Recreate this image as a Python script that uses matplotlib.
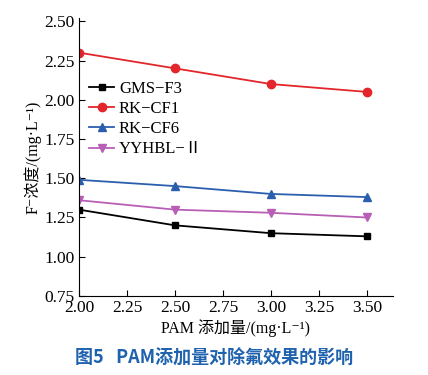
import matplotlib.pyplot as plt

# podatki
pam = [2.00, 2.50, 3.00, 3.50]
gms_f3 = [1.30, 1.20, 1.15, 1.13]
rk_cf1 = [2.30, 2.20, 2.10, 2.05]
rk_cf6 = [1.49, 1.45, 1.40, 1.38]
yyhbl = [1.36, 1.30, 1.28, 1.25]
labels = ["GMS\u2212F3", "RK\u2212CF1", "RK\u2212CF6", "YYHBL\u2212\u2161"]

serif = ['Liberation Serif', 'Noto Sans CJK SC', 'DejaVu Sans']
plt.rcParams['font.family'] = serif

fig = plt.figure(figsize=(4.28, 3.75), dpi=100)
ax = fig.add_axes([0.1846, 0.2107, 0.733, 0.741])

ax.plot(pam, gms_f3, color='black', marker='s', ms=5, lw=1.3, label=labels[0])
ax.plot(pam, rk_cf1, color='#e3262b', marker='o', ms=6, lw=1.3, label=labels[1])
ax.plot(pam, rk_cf6, color='#2b5fae', marker='^', ms=6, lw=1.3, label=labels[2])
ax.plot(pam, yyhbl, color='#b85fb5', marker='v', ms=6, lw=1.3, label=labels[3])

ax.set_xlim(2.0, 3.635)
ax.set_ylim(0.75, 2.52)
ax.set_xticks([2.00, 2.25, 2.50, 2.75, 3.00, 3.25, 3.50])
ax.set_yticks([0.75, 1.00, 1.25, 1.50, 1.75, 2.00, 2.25, 2.50])
ax.xaxis.set_major_formatter(plt.FormatStrFormatter('%.2f'))
ax.yaxis.set_major_formatter(plt.FormatStrFormatter('%.2f'))
ax.tick_params(direction='in', length=4, labelsize=12.5, pad=3)
ax.spines['top'].set_visible(False)
ax.spines['right'].set_visible(False)

ax.set_xlabel("PAM 添加量/(mg\u00b7L\u207b\u00b9)", fontsize=11.5, labelpad=2)
ax.set_ylabel("F\u207b浓度/(mg\u00b7L\u207b\u00b9)", fontsize=11.5, labelpad=2)

ax.legend(loc='upper left', bbox_to_anchor=(0.0, 0.81), frameon=False,
          fontsize=12, handlelength=1.5, handletextpad=0.3, labelspacing=0.25,
          borderaxespad=0.2)

fig.text(0.5, 0.045, "图5   PAM添加量对除氟效果的影响", ha='center', va='center',
         fontsize=13, color='#1f62ad', fontweight='bold',
         family=['Noto Sans CJK SC', 'DejaVu Sans'])

fig.savefig("out.png", dpi=100)
